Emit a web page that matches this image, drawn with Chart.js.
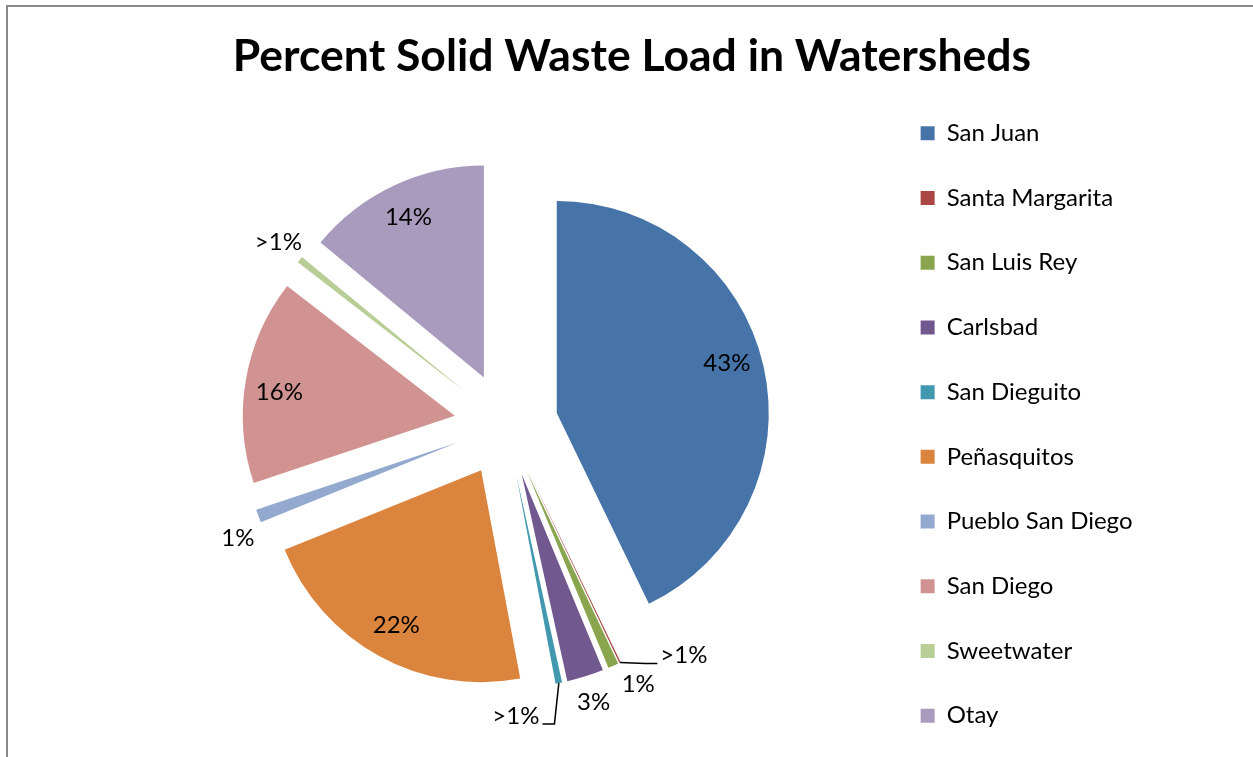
<!DOCTYPE html>
<html><head><meta charset="utf-8">
<script src="https://cdn.jsdelivr.net/npm/chart.js@4.4.1/dist/chart.umd.min.js"></script>
<style>
html,body{margin:0;padding:0;background:#fff;overflow:hidden;width:1253px;height:757px;}
#frame{position:absolute;left:6px;top:5px;width:1300px;height:800px;border-left:2px solid #898989;border-top:2px solid #898989;}
#wrap{position:absolute;left:0;top:0;width:1253px;height:770px;}
</style></head><body>
<div id="frame"></div>
<div id="wrap"><canvas id="c" width="1253" height="770"></canvas></div>
<script>
const categories = ["San Juan", "Santa Margarita", "San Luis Rey", "Carlsbad", "San Dieguito", "Peñasquitos", "Pueblo San Diego", "San Diego", "Sweetwater", "Otay"];
const values = [42.8, 0.1, 0.8, 2.8, 0.5, 21.8, 1.0, 15.6, 0.5, 14.0];
const pctLabels = ["43%", ">1%", "1%", "3%", ">1%", "22%", "1%", "16%", ">1%", "14%"];
const colors = ["#4673A8", "#AA4643", "#89A54E", "#71588F", "#4198AF", "#DB843D", "#93A9CF", "#D19392", "#B9CD96", "#A99BBD"];
const labelShiftDeg = [-2.5, -12, -3, 0, 9.6, 0, -2.8, -1.5, 0, 0];

const EXPLODE = 52; // distance each slice is pulled out along its bisector, px

// Draw the library's arc elements, each pushed outward along its bisector (Excel-style exploded pie)
const explodePlugin = {
  id: 'explode',
  beforeDatasetDraw(chart, args) {
    const ctx = chart.ctx;
    args.meta.data.forEach(arc => {
      const p = arc.getProps(['startAngle', 'endAngle'], true);
      const mid = (p.startAngle + p.endAngle) / 2;
      ctx.save();
      ctx.translate(Math.cos(mid) * EXPLODE, Math.sin(mid) * EXPLODE);
      arc.draw(ctx, chart.chartArea);
      ctx.restore();
    });
    return false;
  }
};

const labelPlugin = {
  id: 'pctLabels',
  afterDatasetsDraw(chart) {
    const ctx = chart.ctx;
    const meta = chart.getDatasetMeta(0);
    const off = EXPLODE;
    ctx.save();
    ctx.font = '24px Lato';
    ctx.fillStyle = '#000';
    ctx.textAlign = 'center';
    ctx.textBaseline = 'middle';
    meta.data.forEach((arc, i) => {
      const p = arc.getProps(['x', 'y', 'startAngle', 'endAngle', 'outerRadius'], true);
      const mid = (p.startAngle + p.endAngle) / 2;
      const outside = values[i] < 5;
      const ratio = outside ? 1.13 : 0.835;
      const ang = mid + labelShiftDeg[i] * Math.PI / 180;
      const d = off + p.outerRadius * ratio;
      const lx = p.x + Math.cos(ang) * d, ly = p.y + Math.sin(ang) * d;
      ctx.fillText(pctLabels[i], lx, ly);
      if (outside && Math.abs(labelShiftDeg[i]) > 5) {
        const tx = p.x + Math.cos(mid) * (off + p.outerRadius);
        const ty = p.y + Math.sin(mid) * (off + p.outerRadius);
        const w = ctx.measureText(pctLabels[i]).width;
        const side = lx > tx ? 1 : -1;
        const ex = lx - side * (w / 2 + 3), ey = ly + 8;
        const bx = ex - side * 12;
        ctx.beginPath();
        ctx.moveTo(tx, ty);
        ctx.lineTo(bx, ey);
        ctx.lineTo(ex, ey);
        ctx.strokeStyle = '#000';
        ctx.lineWidth = 1.5;
        ctx.stroke();
      }
    });
    ctx.restore();
  }
};

function draw() {
  Chart.defaults.color = '#000';
  new Chart(document.getElementById('c'), {
    type: 'pie',
    data: {
      labels: categories,
      datasets: [{
        data: values,
        backgroundColor: colors,
        borderWidth: 0,
        radius: 212
      }]
    },
    options: {
      responsive: false,
      animation: false,
      devicePixelRatio: 1,
      events: [],
      layout: { padding: { left: 132.2, right: 110.5, top: 0, bottom: 0 } },
      plugins: {
        title: {
          display: true,
          text: 'Percent Solid Waste Load in Watersheds ',
          color: '#000',
          font: { family: 'Lato', size: 44.5, weight: 'bold', lineHeight: 1.0 },
          padding: { top: 34.5, bottom: 0 }
        },
        legend: {
          position: 'right',
          fullSize: false,
          align: 'center',
          labels: {
            boxWidth: 14,
            boxHeight: 14,
            padding: 40.7,
            color: '#000',
            font: { family: 'Lato', size: 24 }
          }
        },
        tooltip: { enabled: false }
      }
    },
    plugins: [explodePlugin, labelPlugin]
  });
}
Promise.all([
  document.fonts.load('24px Lato'),
  document.fonts.load('bold 44.5px Lato')
]).then(draw, draw);
</script>
</body></html>
